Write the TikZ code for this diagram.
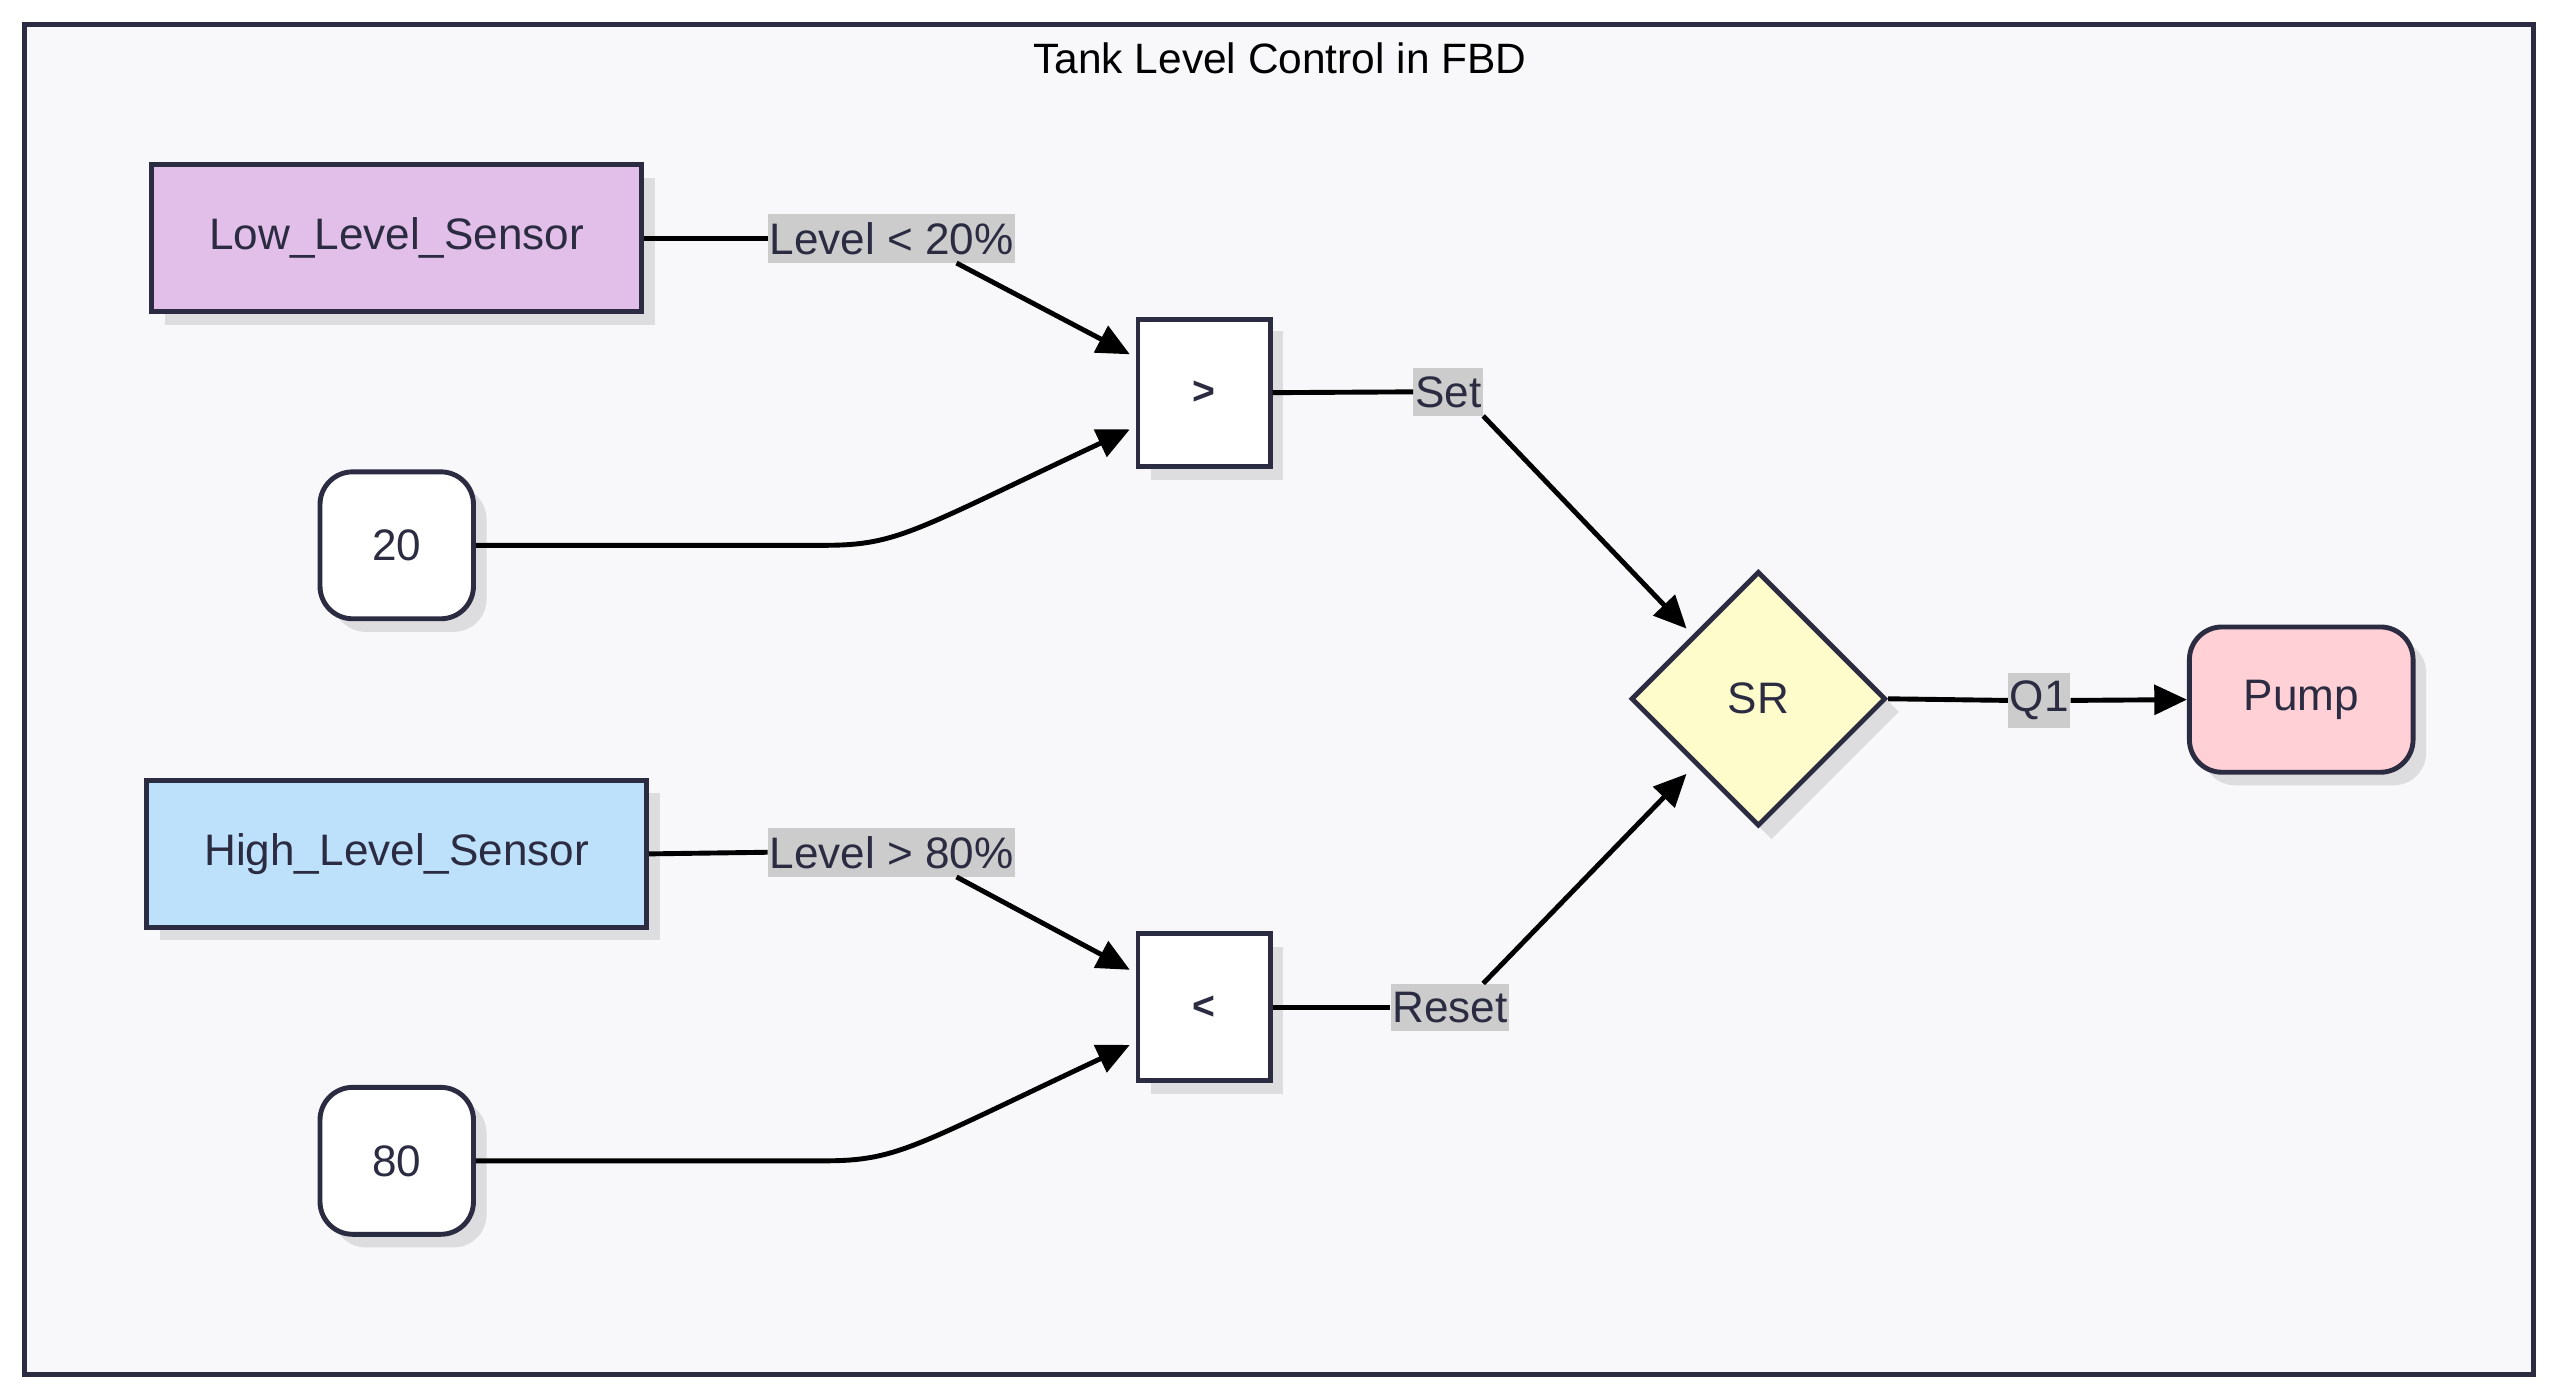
\documentclass[tikz,border=0pt]{standalone}
\usepackage{fontspec}
\setmainfont{Liberation Sans}
\usetikzlibrary{arrows.meta,shapes.geometric}
\definecolor{frm}{HTML}{2B2B42}
\definecolor{bgc}{HTML}{F8F8FA}
\definecolor{shd}{HTML}{DDDDE0}
\definecolor{lbl}{HTML}{CCCCCC}
\tikzset{
  box/.style={draw=frm,line width=3pt,minimum width=#1,minimum height=90pt,inner sep=0pt,font=\fontsize{27}{31}\selectfont,text=frm},
  sh/.style={fill=shd,draw=none},
  lab/.style={fill=lbl,inner xsep=1pt,inner ysep=5pt,font=\fontsize{27}{31}\selectfont,text=frm},
  con/.style={line width=3pt,black},
  arr/.style={con,-{Triangle[length=20pt,width=18pt]}}
}
\begin{document}
\begin{tikzpicture}[x=1pt,y=-1pt]
\useasboundingbox (0,0) rectangle (1568,857);
\fill[white] (0,0) rectangle (1568,857);
\draw[frm,fill=bgc,line width=3pt] (15,15) rectangle (1552,842);
\node[font=\fontsize{26}{30}\selectfont,text=black] (title) at (784,36) {Tank Level Control in FBD};
% shadows
\fill[shd] (101,109) rectangle (401,199);
\fill[shd,rounded corners=20pt] (204,298) rectangle (298,387);
\fill[shd] (98,486) rectangle (404,576);
\fill[shd,rounded corners=20pt] (204,674) rectangle (298,764);
\fill[shd] (705,203) rectangle (786,294);
\fill[shd] (705,580) rectangle (786,670);
\fill[shd] (1085,358) -- (1163,436) -- (1085,514) -- (1007,436) -- cycle;
\fill[shd,rounded corners=20pt] (1349,392) rectangle (1486,481);
% nodes
\node[box=300pt,fill={rgb,255:red,225;green,191;blue,233}] (low) at (243,146) {Low\_Level\_Sensor};
\node[box=94pt,fill=white,rounded corners=20pt] (c20) at (243,334) {20};
\node[box=306pt,fill={rgb,255:red,189;green,224;blue,251}] (high) at (243,523) {High\_Level\_Sensor};
\node[box=94pt,fill=white,rounded corners=20pt] (c80) at (243,711) {80};
\node[box=81pt,fill=white,font=\fontsize{24}{28}\selectfont\bfseries] (gt) at (737.5,240.5) {>};
\node[box=81pt,fill=white,font=\fontsize{24}{28}\selectfont\bfseries] (lt) at (737.5,617) {<};
\node[diamond,draw=frm,line width=3pt,fill={rgb,255:red,255;green,252;blue,204},minimum width=156pt,minimum height=156pt,inner sep=0pt,font=\fontsize{27}{31}\selectfont,text=frm] (sr) at (1077,428) {SR};
\node[box=137pt,minimum height=89pt,fill={rgb,255:red,255;green,208;blue,213},rounded corners=20pt] (pump) at (1409.5,428.5) {Pump};
% labels
\node[lab] (l1) at (546,146) {Level < 20\%};
\node[lab] (l2) at (546,522) {Level > 80\%};
\node[lab] (ls) at (887,240) {Set};
\node[lab] (lr) at (888,617) {Reset};
\node[lab] (lq) at (1249,429) {Q1};
\coordinate (g1) at (692,217);
\coordinate (g2) at (692,263);
\coordinate (k1) at (692,594);
\coordinate (k2) at (692,640);
\coordinate (s1) at (1033,385);
\coordinate (s2) at (1033,474);
% edges
\draw[con] (low.east) -- (l1.west);
\draw[arr] (l1.south east) ++(-36pt,0) -- (g1);
\draw[arr] (c20.east) -- (505,334) .. controls (550,334) and (560,325) .. (g2);
\draw[con] (high.east) -- (l2.west);
\draw[arr] (l2.south east) ++(-36pt,0) -- (k1);
\draw[arr] (c80.east) -- (505,711) .. controls (550,711) and (560,702) .. (k2);
\draw[con] (gt.east) -- (ls.west);
\draw[arr] (ls.south east) -- (s1);
\draw[con] (lt.east) -- (lr.west);
\draw[arr] (lr.north east) ++(-16pt,0) -- (s2);
\draw[con] (sr.east) -- (lq.west);
\draw[arr] (lq.east) -- (pump.west);
\end{tikzpicture}
\end{document}
